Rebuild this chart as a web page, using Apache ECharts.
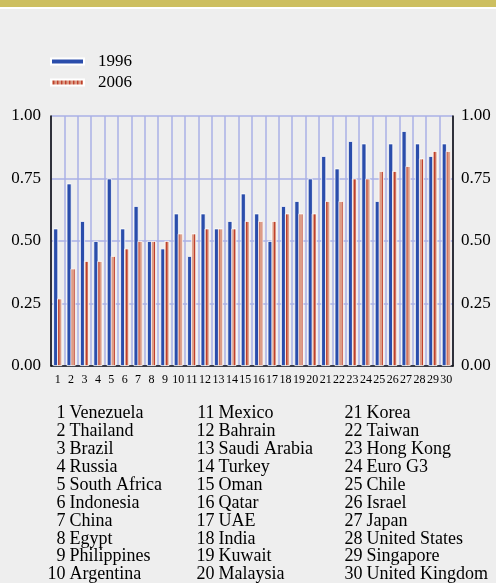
<!DOCTYPE html>
<html>
<head>
<meta charset="utf-8">
<script src="https://cdn.jsdelivr.net/npm/echarts@6/dist/echarts.min.js"></script>
<style>
  html, body { margin: 0; padding: 0; background: #eeeeee; }
  #main { width: 496px; height: 583px; }
</style>
</head>
<body>
<div id="main"></div>
<script>
// category numbers along the x axis
var categories = ['1','2','3','4','5','6','7','8','9','10','11','12','13','14','15',
  '16','17','18','19','20','21','22','23','24','25','26','27','28','29','30'];
var values1996 = [0.55,0.73,0.58,0.50,0.75,0.55,0.64,0.50,0.47,0.61,0.44,0.61,0.55,0.58,0.69,
  0.61,0.50,0.64,0.66,0.75,0.84,0.79,0.90,0.89,0.66,0.89,0.94,0.89,0.84,0.89];
var values2006 = [0.27,0.39,0.42,0.42,0.44,0.47,0.50,0.50,0.50,0.53,0.53,0.55,0.55,0.55,0.58,
  0.58,0.58,0.61,0.61,0.61,0.66,0.66,0.75,0.75,0.78,0.78,0.80,0.83,0.86,0.86];
var countries = ['Venezuela','Thailand','Brazil','Russia','South Africa','Indonesia','China','Egypt',
  'Philippines','Argentina','Mexico','Bahrain','Saudi Arabia','Turkey','Oman','Qatar','UAE','India',
  'Kuwait','Malaysia','Korea','Taiwan','Hong Kong','Euro G3','Chile','Israel','Japan',
  'United States','Singapore','United Kingdom'];
var yTicks = [0, 0.25, 0.5, 0.75, 1];

var serif = '"Liberation Serif", "DejaVu Serif", serif';

// hatched fill for the 2006 bars
var hatch = document.createElement('canvas');
hatch.width = 4; hatch.height = 4;
var hc = hatch.getContext('2d');
var stripes = ['#dc9c86', '#dc9c86', '#c0402c', '#cf7560'];
for (var i = 0; i < 4; i++) { hc.fillStyle = stripes[i]; hc.fillRect(i, 0, 1, 4); }

// country list under the chart
var listGraphics = [];
var colNum = [65.5, 214.5, 362.5];
countries.forEach(function (name, idx) {
  var col = Math.floor(idx / 10), row = idx % 10;
  var y = 413.5 + row * 17.9;
  listGraphics.push({
    type: 'text', x: colNum[col], y: y,
    style: { text: String(idx + 1), font: '18px ' + serif, fill: '#000', align: 'right', verticalAlign: 'middle' }
  });
  listGraphics.push({
    type: 'text', x: colNum[col] + 4, y: y,
    style: { text: name, font: '18px ' + serif, fill: '#000', align: 'left', verticalAlign: 'middle' }
  });
});

var chart = echarts.init(document.getElementById('main'));
chart.setOption({
  backgroundColor: '#eeeeee',
  animation: false,
  graphic: [
    { type: 'rect', shape: { x: 0, y: 0, width: 496, height: 7 }, style: { fill: '#cdbf60' } },
    { type: 'rect', shape: { x: 0, y: 7, width: 496, height: 2 }, style: { fill: '#ffffff' } }
  ].concat(listGraphics),
  legend: {
    data: ['1996', '2006'],
    orient: 'vertical',
    left: 50, top: 53, padding: 0,
    itemWidth: 33, itemHeight: 6, itemGap: 4,
    icon: 'rect',
    textStyle: { fontFamily: serif, fontSize: 17, color: '#000', padding: [0, 0, 3, 9] }
  },
  grid: { left: 51, right: 43, top: 116, bottom: 217 },
  xAxis: {
    type: 'category',
    data: categories,
    axisLine: { lineStyle: { color: '#111', width: 1.5 } },
    axisTick: { length: 5, lineStyle: { color: '#111', width: 1.5 } },
    axisLabel: { interval: 0, fontFamily: serif, fontSize: 12, color: '#000', margin: 8 },
    splitLine: { show: true, lineStyle: { color: '#aab0e6', width: 1.5 } }
  },
  yAxis: [{
    type: 'value', min: yTicks[0], max: yTicks[yTicks.length - 1], interval: 0.25,
    axisLine: { show: true, lineStyle: { color: '#000', width: 1.5 } },
    axisTick: { show: false },
    axisLabel: { formatter: function (v) { return v.toFixed(2); }, fontFamily: serif, fontSize: 17, color: '#000', margin: 10 },
    splitLine: { lineStyle: { color: '#aab0e6', width: 1.5 } }
  }, {
    type: 'value', position: 'right', min: yTicks[0], max: yTicks[yTicks.length - 1], interval: 0.25,
    axisLine: { show: true, lineStyle: { color: '#000', width: 1.5 } },
    axisTick: { show: false },
    axisLabel: { formatter: function (v) { return v.toFixed(2); }, fontFamily: serif, fontSize: 17, color: '#000', margin: 8 },
    splitLine: { show: false }
  }],
  series: [{
    name: '1996', type: 'bar', data: values1996,
    barWidth: 5, barGap: '-20%',
    itemStyle: { color: '#2a4dab', borderColor: '#ffffff', borderWidth: 0.8 }
  }, {
    name: '2006', type: 'bar', data: values2006,
    barWidth: 5, barGap: '-20%',
    itemStyle: { color: { image: hatch, repeat: 'repeat' }, borderColor: '#ffffff', borderWidth: 0.8 }
  }]
});
</script>
</body>
</html>
